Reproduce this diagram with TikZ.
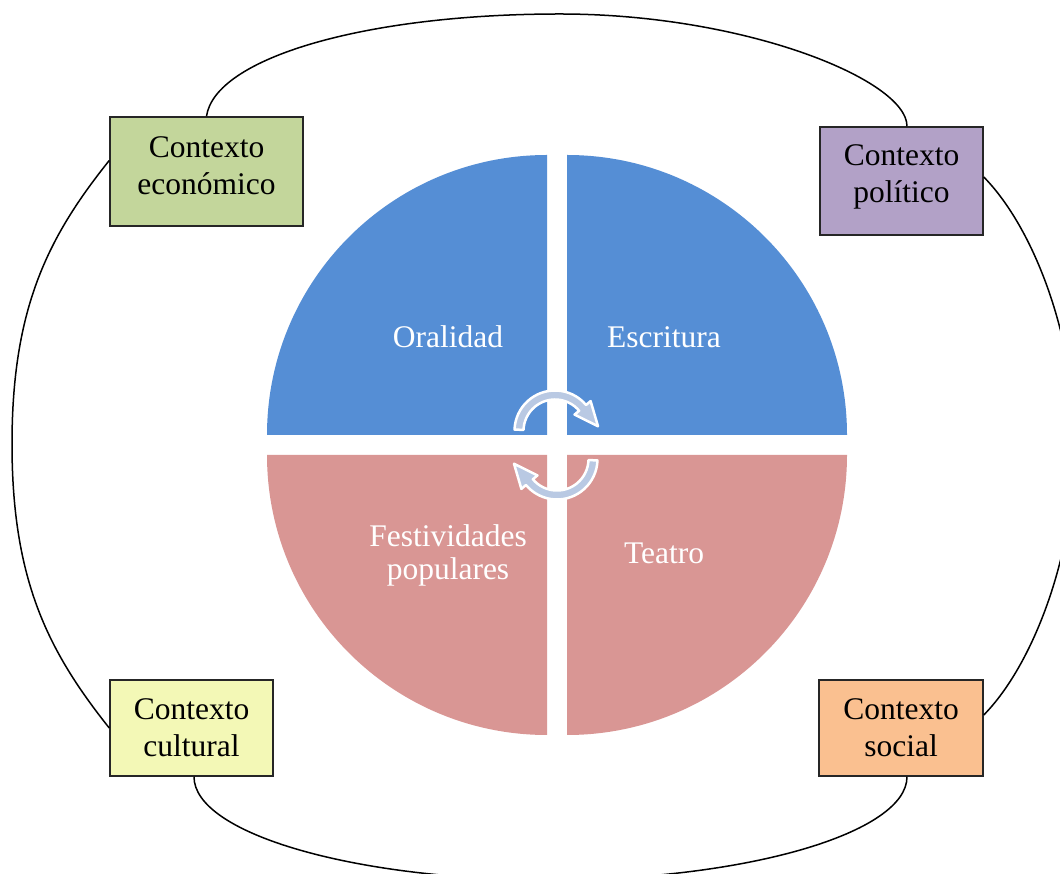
\documentclass[tikz,border=0pt]{standalone}
\usepackage{fontspec}
\setmainfont{Liberation Serif}
\usetikzlibrary{calc}
\definecolor{pieblue}{RGB}{85,142,213}
\definecolor{piered}{RGB}{217,150,148}
\definecolor{econfill}{RGB}{195,214,155}
\definecolor{polfill}{RGB}{178,161,199}
\definecolor{cultfill}{RGB}{243,248,182}
\definecolor{socfill}{RGB}{250,192,144}
\definecolor{arrowfill}{RGB}{185,201,227}
\begin{document}
\begin{tikzpicture}[x=1pt,y=1pt,
  ctx/.style={draw=black!85, line width=1.5pt, align=center, inner sep=0pt,
    font=\fontsize{31.5}{37}\selectfont, text=black},
  link/.style={draw=black, line width=1.5pt},
  plabel/.style={text=white, align=center, font=\fontsize{31.5}{33}\selectfont},
  cyc/.style={fill=arrowfill, draw=white, line width=2.5pt, line join=round}]
\useasboundingbox (0,0) rectangle (1060,873);
\fill[white] (0,0) rectangle (1060,873);

% pie quadrants
\fill[pieblue] (547,438) -- ++(180:280) arc[start angle=180, end angle=90, radius=280] -- cycle;
\fill[pieblue] (567,438) -- ++(0:280) arc[start angle=0, end angle=90, radius=280] -- cycle;
\fill[piered] (547,418) -- ++(180:280) arc[start angle=180, end angle=270, radius=280] -- cycle;
\fill[piered] (567,418) -- ++(0:280) arc[start angle=0, end angle=-90, radius=280] -- cycle;

\node[plabel] (oral) at (448,536) {Oralidad};
\node[plabel] (escr) at (664,536) {Escritura};
\node[plabel] (fest) at (448,318) {Festividades\\populares};
\node[plabel] (teat) at (664,320) {Teatro};

% circular arrows
\coordinate (C1) at (555,442);
\coordinate (C2) at (557,414);
\filldraw[cyc] ($(C1)+(178:40.5)$) arc[start angle=178, end angle=40, radius=40.5]
  -- ($(C1)+(40:46.5)$) -- ($(C1)+(40:36)+(-50:24)$) -- ($(C1)+(40:25.5)$)
  -- ($(C1)+(40:31.5)$) arc[start angle=40, end angle=178, radius=31.5] -- cycle;
\filldraw[cyc] ($(C2)+(358:40.5)$) arc[start angle=358, end angle=220, radius=40.5]
  -- ($(C2)+(220:46.5)$) -- ($(C2)+(220:36)+(130:24)$) -- ($(C2)+(220:25.5)$)
  -- ($(C2)+(220:31.5)$) arc[start angle=220, end angle=358, radius=31.5] -- cycle;

% context boxes
\node[ctx, fill=econfill, minimum width=193pt, minimum height=109pt, text depth=11pt] (econ) at (206.5,701.5) {Contexto\\económico};
\node[ctx, fill=polfill, minimum width=163pt, minimum height=108pt, text depth=15pt] (pol) at (901.5,692) {Contexto\\político};
\node[ctx, fill=cultfill, minimum width=163pt, minimum height=96pt] (cult) at (191.5,145) {Contexto\\cultural};
\node[ctx, fill=socfill, minimum width=164pt, minimum height=96pt] (soc) at (901,145) {Contexto\\social};

% connecting curves
\coordinate (topmid) at (560,859);
\coordinate (leftmid) at (12,429);
\coordinate (rightmid) at (1075,428);
\coordinate (botmid) at (550,-7);

\draw[link] (econ.north) .. controls (215,815) and (365,859) .. (topmid)
  .. controls (745,859) and (907,793) .. ([xshift=5.5pt]pol.north);
\draw[link] ([yshift=11pt]econ.west) .. controls (48,636) and (12,565) .. (leftmid)
  .. controls (12,293) and (48,222) .. (cult.west);
\draw[link] ([yshift=4pt]pol.east) .. controls (1033,646) and (1075,538) .. (rightmid)
  .. controls (1075,318) and (1033,208) .. ([yshift=13pt]soc.east);
\draw[link] ([xshift=2.5pt]cult.south) .. controls (194,39.6) and (353.5,-7) .. (botmid)
  .. controls (747,-7) and (907,40.2) .. ([xshift=6pt]soc.south);
\end{tikzpicture}
\end{document}
